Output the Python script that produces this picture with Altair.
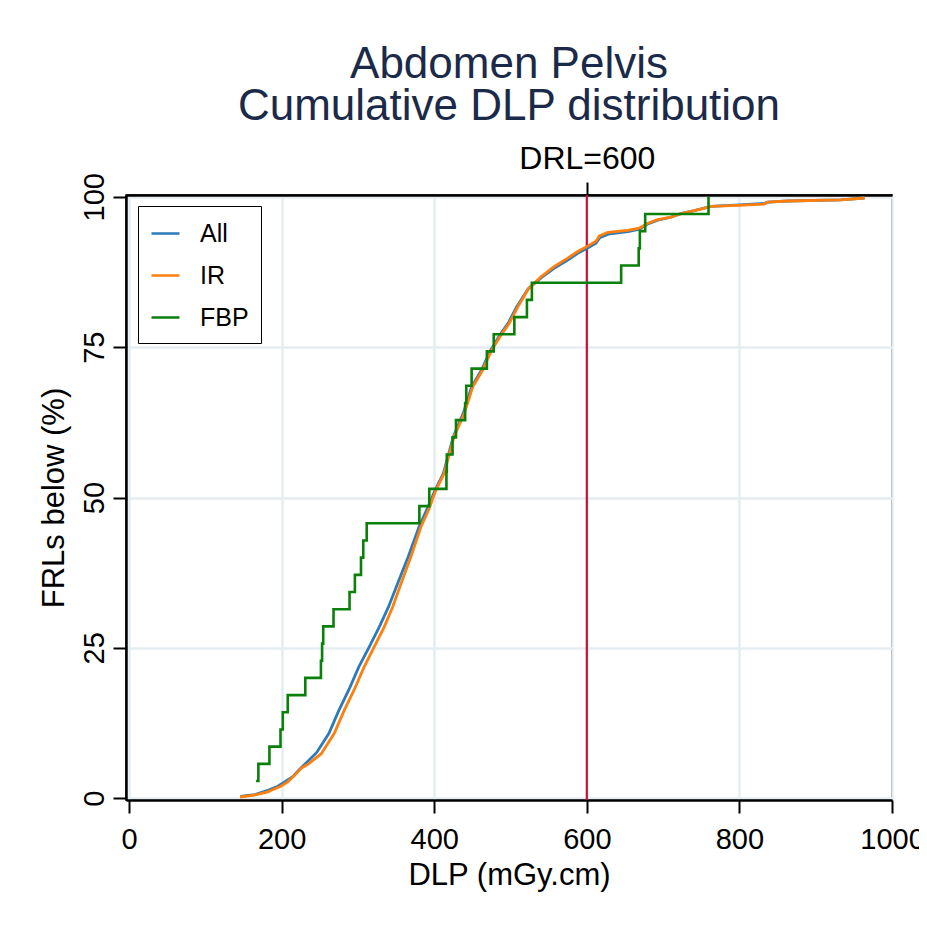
import altair as alt
import pandas as pd

# ---- data ----
all_x = [146, 165, 182, 195, 205, 215, 222, 230, 246, 262, 275, 288, 301, 315, 328,
         340, 352, 366, 380, 391, 401, 412, 425, 438, 449, 462, 473, 486, 497, 508,
         523, 540, 557, 575, 588, 601, 612, 617, 628, 654, 669, 680, 693, 710, 723,
         741, 763, 806, 833, 837, 863, 933, 964]
all_y = [0.3, 0.6, 1.3, 2.0, 2.8, 3.6, 4.6, 5.6, 7.6, 10.8, 14.6, 18.0, 21.8, 25.2, 28.5,
         31.8, 35.7, 40.2, 45.1, 48.2, 51.2, 54.0, 60.1, 64.0, 68.4, 71.2, 74.3, 77.0, 79.0, 81.7,
         84.7, 86.5, 88.1, 89.5, 90.6, 91.5, 92.3, 93.2, 93.8, 94.2, 94.6, 95.5, 96.1, 96.6, 97.2,
         97.7, 98.4, 98.7, 98.9, 99.1, 99.3, 99.5, 99.8]

ir_x = [145.5, 164, 182, 188, 199, 208, 217, 226, 234, 252, 269, 282, 295, 308, 321.5,
        334.5, 345.5, 356.5, 369.5, 382.5, 393.5, 402, 413, 426, 439.5, 450.5, 463.5, 474.5, 487.5,
        498.5, 509.5, 524, 540, 557, 575, 588, 601, 612, 616.5, 627.5, 653.5, 669, 680,
        693, 710, 723.5, 741, 763, 806, 832.5, 837, 863, 933, 964]
ir_y = [0.2, 0.5, 1.05, 1.4, 2.0, 2.7, 3.8, 5.0, 5.6, 7.4, 10.8, 14.6, 18.0, 21.8, 25.2,
        28.5, 31.8, 35.7, 40.2, 45.1, 48.2, 51.2, 54.0, 60.1, 64.0, 68.4, 71.2, 74.3, 77.0,
        79.0, 81.7, 84.8, 86.7, 88.4, 89.8, 90.9, 91.8, 92.6, 93.5, 94.1, 94.4, 94.8, 95.6,
        96.2, 96.6, 97.2, 97.7, 98.4, 98.6, 98.8, 99.1, 99.3, 99.5, 99.8]

fbp_x = [166.5, 169.5, 184, 198.5, 201.5, 208, 231, 251.5, 253, 254.5, 268, 289, 296, 304, 307,
         311.5, 380.5, 393.5, 416, 416.5, 424, 428.5, 440.5, 442, 449, 469, 478, 505, 521.5,
         528, 645, 668, 669.5, 676.5, 759.5]
fbp_y = [2.86, 5.71, 8.57, 11.43, 14.29, 17.14, 20.0, 22.86, 25.71, 28.57, 31.43, 34.29, 37.14,
         40.0, 42.86, 45.71, 48.57, 51.43, 54.29, 57.14, 60.0, 62.86, 65.71, 68.57, 71.43, 74.29,
         77.14, 80.0, 82.86, 85.71, 88.57, 91.43, 94.29, 97.14, 100.0]

series_names = ["All", "IR", "FBP"]
series_colors = ["#2b7bba", "#ff7f0e", "#0a800a"]
drl_value = [600]

x_ticks = [0, 200, 400, 600, 800, 1000]
y_ticks = [0, 25, 50, 75, 100]

# ---- build ----
FONT = "Liberation Sans"

df_all = pd.DataFrame({"x": all_x, "y": all_y, "series": "All"})
df_ir = pd.DataFrame({"x": ir_x, "y": ir_y, "series": "IR"})
df_fbp = pd.DataFrame({"x": fbp_x, "y": fbp_y, "series": "FBP"})
df_drl = pd.DataFrame({"x": drl_value})

xscale = alt.Scale(domain=[-4, 1000], nice=False, zero=False)
yscale = alt.Scale(domain=[-0.3, 100.3], nice=False, zero=False)

color = alt.Color(
    "series:N",
    scale=alt.Scale(domain=series_names, range=series_colors),
    legend=alt.Legend(
        title=None, orient="none", legendX=12, legendY=11,
        strokeColor="black", fillColor="white", padding=12,
        symbolType="stroke", symbolSize=784, symbolStrokeWidth=2.5,
        labelFontSize=25, labelFont=FONT, labelColor="black",
        labelOffset=19, rowPadding=13,
    ),
)

y_enc = alt.Y(
    "y:Q", scale=yscale,
    axis=alt.Axis(values=y_ticks, title="FRLs below (%)", labelAngle=-90,
                  labelAlign="center", labelBaseline="alphabetic", labelPadding=10,
                  titlePadding=10, grid=True),
)

x_bottom = alt.X(
    "x:Q", scale=xscale,
    axis=alt.Axis(values=x_ticks, title="DLP (mGy.cm)", labelPadding=12, format="d",
                  titlePadding=6, labelFlush=False, labelOverlap=False, grid=True),
)

line_all = alt.Chart(df_all).mark_line(strokeWidth=2.8).encode(
    x=x_bottom, y=y_enc, color=color)
line_ir = alt.Chart(df_ir).mark_line(strokeWidth=2.8).encode(
    x=alt.X("x:Q", scale=xscale, axis=None), y=y_enc, color=color)
line_fbp = alt.Chart(df_fbp).mark_line(strokeWidth=2.6, interpolate="step-after").encode(
    x=alt.X("x:Q", scale=xscale, axis=None), y=y_enc, color=color)

rule = alt.Chart(df_drl).mark_rule(color="#c2113e", strokeWidth=2.2).encode(
    x=alt.X("x:Q", scale=xscale,
            axis=alt.Axis(orient="top", values=drl_value, labelExpr="'DRL=600'",
                          grid=False, title=None, labelFontSize=32, labelPadding=7,
                          labelFlush=False)),
)

chart = (
    alt.layer(rule, line_all, line_ir, line_fbp)
    .resolve_axis(x="independent")
    .properties(
        width=766, height=605,
        autosize=alt.AutoSizeParams(type="none"),
        padding={"left": 118, "top": 187, "right": 27, "bottom": 110},
        title=alt.TitleParams(
            text=["Abdomen Pelvis", "Cumulative DLP distribution"],
            fontSize=44, font=FONT, fontWeight="normal", color="#1c2a4a",
            lineHeight=42, anchor="middle", offset=13,
        ),
    )
    .configure_view(stroke="black", strokeWidth=1.5)
    .configure_axis(
        domainColor="black", domainWidth=2.5, tickColor="black", tickWidth=2,
        tickSize=13, labelFont=FONT, labelFontSize=29, labelColor="black",
        titleFont=FONT, titleFontSize=31, titleFontWeight="normal", titleColor="black",
        gridColor="#e5edf0", gridWidth=2.5,
    )
)

chart.save("out.html", embed_options={"renderer": "svg", "actions": False})
